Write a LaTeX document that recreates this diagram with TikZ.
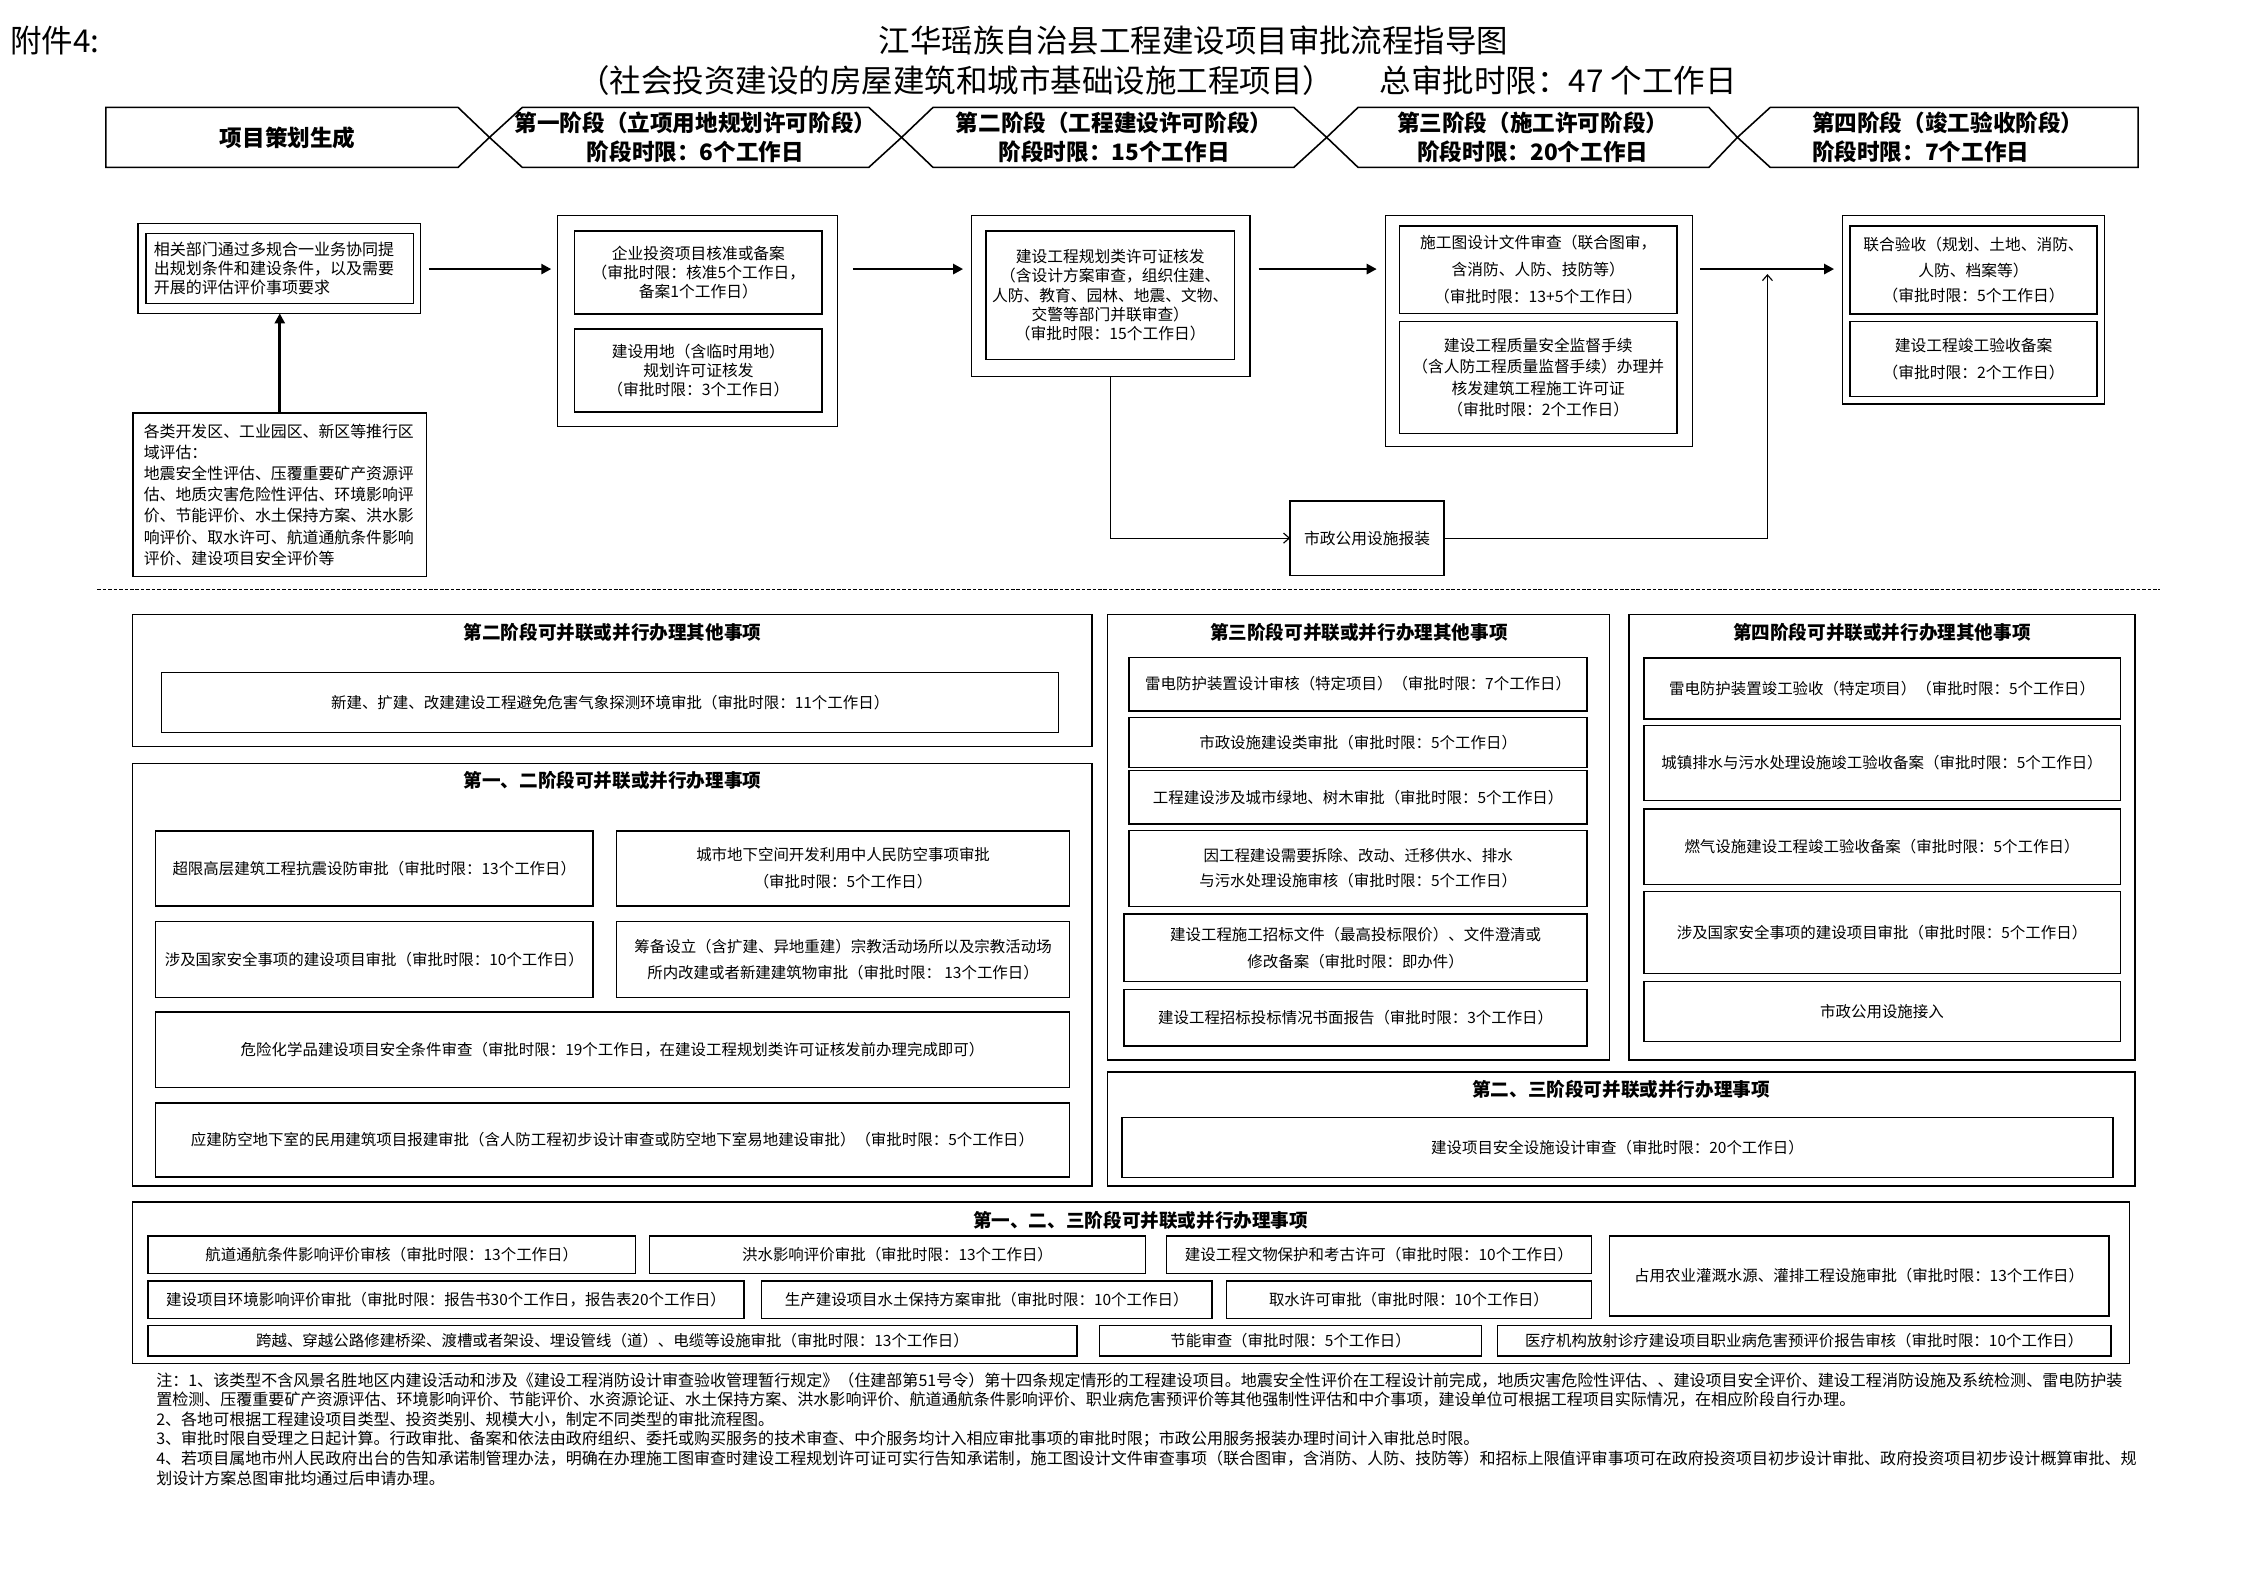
\documentclass[tikz,border=0pt]{standalone}
\usepackage{fontspec}
\setmainfont{Noto Sans CJK SC}
\usetikzlibrary{arrows.meta}
\newcommand\fs[2]{\fontsize{#1}{#2}\selectfont}
\newcommand\bx[7][]{%
  \node[bx,minimum width={(#5-#3)*1pt},minimum height={(#6-#4)*1pt},#1] (#2) at ({(#3+#5)/2},{(#4+#6)/2}) {#7};}
\tikzset{
  bx/.style={draw,line width=1pt,inner sep=0pt,outer sep=0pt,align=center,font=\fs{10.8}{13.5}},
  ttl/.style={inner sep=0pt,font=\fs{13}{16}\bfseries},
  band/.style={draw,line width=1.1pt,line join=miter},
  bandtxt/.style={inner sep=0pt,align=center,font=\fs{15.8}{19.8}\bfseries},
  mainarrow/.style={line width=2pt,-{Triangle[length=7pt,width=7pt]}},
  subarrow/.style={line width=0.8pt,-{Straight Barb[length=4pt,width=7pt]}},
  notetxt/.style={anchor=west,inner sep=0pt,font=\fs{11.2}{13.75}},
}
\begin{document}
\begin{tikzpicture}[x=1pt,y=-1pt]
\fill[white] (0,0) rectangle (1568,1109);
\useasboundingbox (0,0) rectangle (1568,1109);

% ---------- header ----------
\node[anchor=west,inner sep=0pt,font=\fs{22}{24}] (fj) at (7,28.5) {附件4:};
\node[inner sep=0pt,font=\fs{22}{24}] (t1) at (834,28.5) {江华瑶族自治县工程建设项目审批流程指导图};
\node[anchor=west,inner sep=0pt,font=\fs{22}{24}] (t2) at (404,56) {（社会投资建设的房屋建筑和城市基础设施工程项目）};
\node[anchor=west,inner sep=0pt,font=\fs{22}{24}] (t3) at (964,56) {总审批时限：47 个工作日};

% ---------- stage band ----------
\draw[band] (74,75) -- (320,75) -- (342,96) -- (320,117) -- (74,117) -- cycle;
\draw[band] (365,75) -- (607,75) -- (630,96) -- (607,117) -- (365,117) -- (342,96) -- cycle;
\draw[band] (652,75) -- (904,75) -- (927,96) -- (904,117) -- (652,117) -- (630,96) -- cycle;
\draw[band] (949,75) -- (1194,75) -- (1214,96) -- (1194,117) -- (949,117) -- (927,96) -- cycle;
\draw[band] (1237,75) -- (1494,75) -- (1494,117) -- (1237,117) -- (1214,96) -- cycle;
\node[bandtxt] (h1) at (201,96) {项目策划生成};
\node[bandtxt] (h2) at (486,96) {第一阶段（立项用地规划许可阶段）\\阶段时限：6个工作日};
\node[bandtxt] (h3) at (778.5,96) {第二阶段（工程建设许可阶段）\\阶段时限：15个工作日};
\node[bandtxt] (h4) at (1071,96) {第三阶段（施工许可阶段）\\阶段时限：20个工作日};
\node[bandtxt,align=left,anchor=west] (h5) at (1266,96) {第四阶段（竣工验收阶段）\\阶段时限：7个工作日};

% ---------- flow ----------
\coordinate (ml) at (0,188);
\bx{Aout}{96.5}{156}{294}{219}{}
\bx[align=left,text width=176pt,font=\fs{11.2}{13.5}]{A}{102}{163}{289}{212}{相关部门通过多规合一业务协同提\\出规划条件和建设条件，以及需要\\开展的评估评价事项要求}
\bx[align=left,text width=190pt,font=\fs{11.1}{14.7}]{B}{93}{288.6}{298}{403}{各类开发区、工业园区、新区等推行区\\域评估：\\地震安全性评估、压覆重要矿产资源评\\估、地质灾害危险性评估、环境影响评\\价、节能评价、水土保持方案、洪水影\\响评价、取水许可、航道通航条件影响\\评价、建设项目安全评价等}

\bx{Cout}{389.7}{150.7}{585}{298}{}
\bx[font=\fs{11}{13.5}]{C1}{401.5}{161.5}{574.5}{219.5}{企业投资项目核准或备案\\（审批时限：核准5个工作日，\\备案1个工作日）}
\bx[font=\fs{11}{13.2}]{C2}{401.5}{230}{574.5}{288}{建设用地（含临时用地）\\规划许可证核发\\（审批时限：3个工作日）}

\bx{Dout}{679}{150.7}{873.5}{263}{}
\bx[font=\fs{11}{13.5}]{D}{689}{161.5}{862.6}{251}{建设工程规划类许可证核发\\（含设计方案审查，组织住建、\\人防、教育、园林、地震、文物、\\交警等部门并联审查）\\（审批时限：15个工作日）}

\bx{Eout}{968}{150.7}{1182.5}{312}{}
\bx[font=\fs{11}{19}]{E1}{978}{158}{1171.7}{219}{施工图设计文件审查（联合图审，\\含消防、人防、技防等）\\（审批时限：13+5个工作日）}
\bx[font=\fs{11}{15}]{E2}{978}{224.8}{1171.7}{302.8}{建设工程质量安全监督手续\\（含人防工程质量监督手续）办理并\\核发建筑工程施工许可证\\（审批时限：2个工作日）}

\bx{Gout}{1287.4}{150.7}{1470.5}{282.3}{}
\bx[font=\fs{11}{18}]{G1}{1292.6}{158}{1465.4}{219.4}{联合验收（规划、土地、消防、\\人防、档案等）\\（审批时限：5个工作日）}
\bx[font=\fs{11}{18.6}]{G2}{1292.6}{224.8}{1465.4}{277.2}{建设工程竣工验收备案\\（审批时限：2个工作日）}

\bx[font=\fs{11}{13.5}]{F}{901.5}{350}{1009}{402}{市政公用设施报装}

\coordinate (j) at (1235,188);
\draw[mainarrow] (B.north) -- (B.north |- Aout.south);
\draw[mainarrow,shorten <=6pt,shorten >=4.5pt] (Aout.east |- ml) -- (Cout.west |- ml);
\draw[mainarrow,shorten <=11pt,shorten >=6pt] (Cout.east |- ml) -- (Dout.west |- ml);
\draw[mainarrow,shorten <=6pt,shorten >=6pt] (Dout.east |- ml) -- (Eout.west |- ml);
\draw[mainarrow,shorten <=5.5pt,shorten >=5.8pt] (Eout.east |- ml) -- (Gout.west |- ml);
\draw[subarrow] (Dout.south) |- (F.west);
\draw[subarrow,shorten >=3.5pt] (F.east) -| (j);

% ---------- separator ----------
\draw[line width=0.7pt,dash pattern=on 2.5pt off 1.3pt] (68,412) -- (1509,412);

% ---------- stage 2 other ----------
\bx{Q2}{92.5}{429.4}{763}{521.5}{}
\node[ttl] (Q2t) at (428,442) {第二阶段可并联或并行办理其他事项};
\bx{Q2a}{113}{470}{739.7}{512}{新建、扩建、改建建设工程避免危害气象探测环境审批（审批时限：11个工作日）}

% ---------- stage 1-2 ----------
\bx{Q12}{92.5}{533.5}{763}{828.7}{}
\node[ttl] (Q12t) at (428,545) {第一、二阶段可并联或并行办理事项};
\bx{Q12a}{108.7}{580.7}{414.4}{633}{超限高层建筑工程抗震设防审批（审批时限：13个工作日）}
\bx[font=\fs{10.8}{18.7}]{Q12b}{430.9}{580.7}{747.3}{633}{城市地下空间开发利用中人民防空事项审批\\（审批时限：5个工作日）}
\bx{Q12c}{108.7}{644}{414.4}{697}{涉及国家安全事项的建设项目审批（审批时限：10个工作日）}
\bx[font=\fs{10.8}{18.7}]{Q12d}{430.9}{644}{747.3}{697}{筹备设立（含扩建、异地重建）宗教活动场所以及宗教活动场\\所内改建或者新建建筑物审批（审批时限： 13个工作日）}
\bx{Q12e}{108.7}{707}{747.3}{760}{危险化学品建设项目安全条件审查（审批时限：19个工作日，在建设工程规划类许可证核发前办理完成即可）}
\bx{Q12f}{108.7}{770.8}{747.3}{822.5}{应建防空地下室的民用建筑项目报建审批（含人防工程初步设计审查或防空地下室易地建设审批）（审批时限：5个工作日）}

% ---------- stage 3 other ----------
\bx{Q3}{773.8}{429.4}{1124.6}{740.8}{}
\node[ttl] (Q3t) at (949.5,442) {第三阶段可并联或并行办理其他事项};
\bx{Q3a}{789}{459.3}{1109}{496.7}{雷电防护装置设计审核（特定项目）（审批时限：7个工作日）}
\bx{Q3b}{789}{501.5}{1109}{536.1}{市政设施建设类审批（审批时限：5个工作日）}
\bx{Q3c}{789}{538.5}{1109}{575.9}{工程建设涉及城市绿地、树木审批（审批时限：5个工作日）}
\bx[font=\fs{10.8}{17.5}]{Q3d}{789}{580.2}{1109}{633.5}{因工程建设需要拆除、改动、迁移供水、排水\\与污水处理设施审核（审批时限：5个工作日）}
\bx[font=\fs{10.8}{18.7}]{Q3e}{785.5}{638.5}{1109}{686}{建设工程施工招标文件（最高投标限价）、文件澄清或\\修改备案（审批时限：即办件）}
\bx{Q3f}{785.5}{691.3}{1109}{730.8}{建设工程招标投标情况书面报告（审批时限：3个工作日）}

% ---------- stage 4 other ----------
\bx{Q4}{1138.4}{429.4}{1491.7}{740.8}{}
\node[ttl] (Q4t) at (1315,442) {第四阶段可并联或并行办理其他事项};
\bx{Q4a}{1148.6}{459.8}{1481.5}{502.5}{雷电防护装置竣工验收（特定项目）（审批时限：5个工作日）}
\bx{Q4b}{1148.6}{506.8}{1481.5}{559.3}{城镇排水与污水处理设施竣工验收备案（审批时限：5个工作日）}
\bx{Q4c}{1148.6}{565.2}{1481.5}{618}{燃气设施建设工程竣工验收备案（审批时限：5个工作日）}
\bx{Q4d}{1148.6}{622.8}{1481.5}{680.2}{涉及国家安全事项的建设项目审批（审批时限：5个工作日）}
\bx{Q4e}{1148.6}{686}{1481.5}{727.9}{市政公用设施接入}

% ---------- stage 2-3 ----------
\bx{Q23}{773.8}{749.1}{1491.7}{828.7}{}
\node[ttl] (Q23t) at (1132.7,761.5) {第二、三阶段可并联或并行办理事项};
\bx{Q23a}{784}{780.7}{1476.4}{822.9}{建设项目安全设施设计审查（审批时限：20个工作日）}

% ---------- stage 1-2-3 ----------
\bx{Q123}{92.5}{839.8}{1488}{952.6}{}
\node[ttl] (Q123t) at (797,852.6) {第一、二、三阶段可并联或并行办理事项};
\bx{R1a}{103.3}{863.5}{444.2}{889.8}{航道通航条件影响评价审核（审批时限：13个工作日）}
\bx{R1b}{454}{863.5}{800.3}{889.8}{洪水影响评价审批（审批时限：13个工作日）}
\bx{R1c}{815.2}{863.5}{1112}{889.8}{建设工程文物保护和考古许可（审批时限：10个工作日）}
\bx{R1d}{1124.6}{863.5}{1473.6}{919.6}{占用农业灌溉水源、灌排工程设施审批（审批时限：13个工作日）}
\bx{R2a}{103.3}{895.2}{520}{921.3}{建设项目环境影响评价审批（审批时限：报告书30个工作日，报告表20个工作日）}
\bx{R2b}{532}{895.2}{846.9}{921.3}{生产建设项目水土保持方案审批（审批时限：10个工作日）}
\bx{R2c}{857}{895.2}{1112}{921.3}{取水许可审批（审批时限：10个工作日）}
\bx{R3a}{103.3}{926}{752.6}{947.4}{跨越、穿越公路修建桥梁、渡槽或者架设、埋设管线（道）、电缆等设施审批（审批时限：13个工作日）}
\bx{R3b}{768.3}{926}{1035.3}{947.4}{节能审查（审批时限：5个工作日）}
\bx{R3c}{1046.5}{926}{1475}{947.4}{医疗机构放射诊疗建设项目职业病危害预评价报告审核（审批时限：10个工作日）}

% ---------- notes ----------
\node[notetxt] (n1) at (109,964.4) {注：1、该类型不含风景名胜地区内建设活动和涉及《建设工程消防设计审查验收管理暂行规定》（住建部第51号令）第十四条规定情形的工程建设项目。地震安全性评价在工程设计前完成，地质灾害危险性评估、、建设项目安全评价、建设工程消防设施及系统检测、雷电防护装};
\node[notetxt] (n2) at (109,978.2) {置检测、压覆重要矿产资源评估、环境影响评价、节能评价、水资源论证、水土保持方案、洪水影响评价、航道通航条件影响评价、职业病危害预评价等其他强制性评估和中介事项，建设单位可根据工程项目实际情况，在相应阶段自行办理。};
\node[notetxt] (n3) at (109,991.9) {2、各地可根据工程建设项目类型、投资类别、规模大小，制定不同类型的审批流程图。};
\node[notetxt] (n4) at (109,1005.7) {3、审批时限自受理之日起计算。行政审批、备案和依法由政府组织、委托或购买服务的技术审查、中介服务均计入相应审批事项的审批时限；市政公用服务报装办理时间计入审批总时限。};
\node[notetxt] (n5) at (109,1019.4) {4、若项目属地市州人民政府出台的告知承诺制管理办法，明确在办理施工图审查时建设工程规划许可证可实行告知承诺制，施工图设计文件审查事项（联合图审，含消防、人防、技防等）和招标上限值评审事项可在政府投资项目初步设计审批、政府投资项目初步设计概算审批、规};
\node[notetxt] (n6) at (109,1033.2) {划设计方案总图审批均通过后申请办理。};
\end{tikzpicture}
\end{document}
